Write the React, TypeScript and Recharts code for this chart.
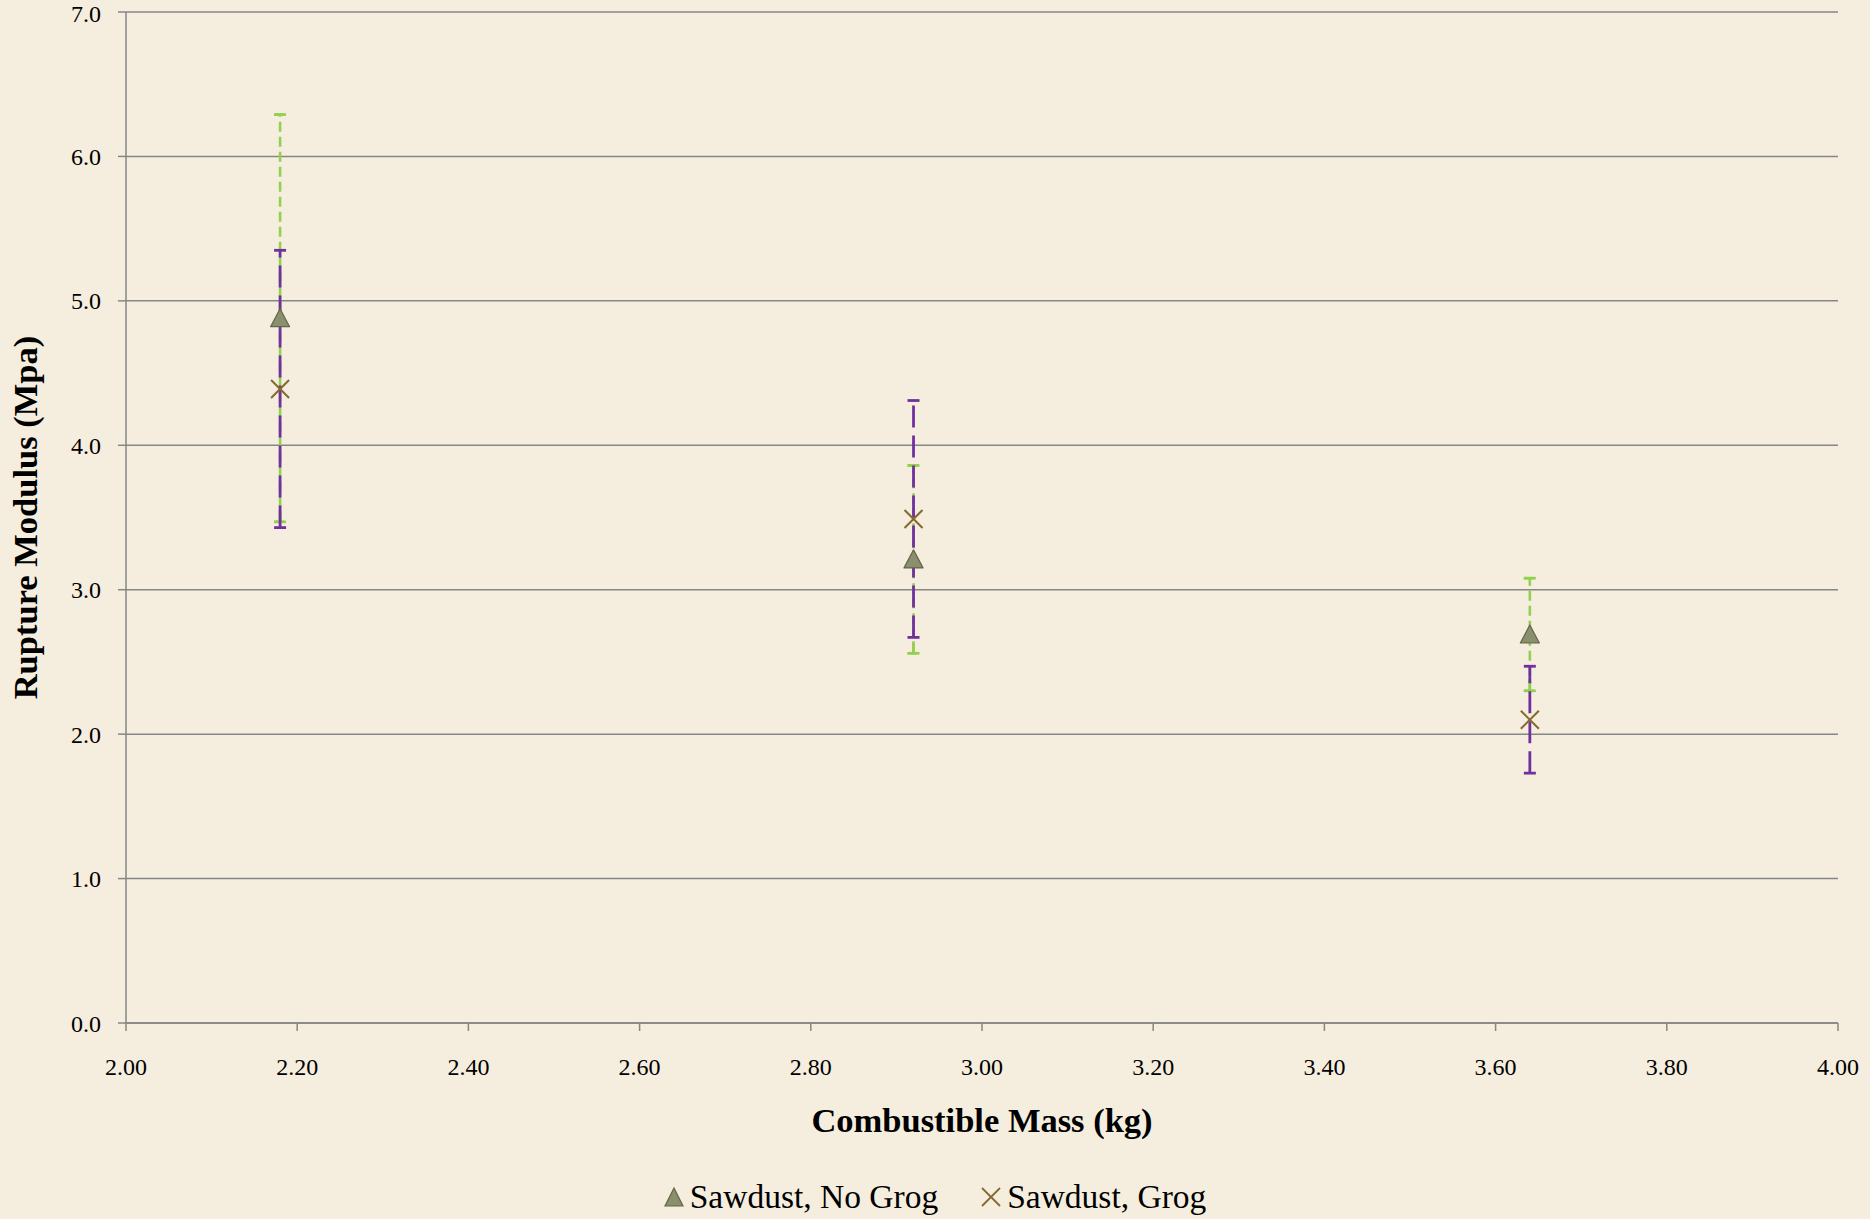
import React from 'react';
import {
  ScatterChart,
  Scatter,
  XAxis,
  YAxis,
  CartesianGrid,
  ErrorBar,
  Legend,
  Label,
} from 'recharts';

// Rupture modulus measurements against combustible mass
const massKg = [2.18, 2.92, 3.64];
const noGrogMpa = [4.88, 3.21, 2.69];
const noGrogErr = [1.41, 0.65, 0.39];
const grogMpa = [4.39, 3.49, 2.1];
const grogErr = [0.96, 0.82, 0.37];

const xTicks = [2.0, 2.2, 2.4, 2.6, 2.8, 3.0, 3.2, 3.4, 3.6, 3.8, 4.0];
const yTicks = [0, 1, 2, 3, 4, 5, 6, 7];
const seriesNames = ['Sawdust, No Grog', 'Sawdust, Grog'];
const xTitle = 'Combustible Mass (kg)';
const yTitle = 'Rupture Modulus (Mpa)';

const noGrogData = massKg.map((m, i) => ({ mass: m, mpa: noGrogMpa[i], err: noGrogErr[i] }));
const grogData = massKg.map((m, i) => ({ mass: m, mpa: grogMpa[i], err: grogErr[i] }));

const FONT = '"Liberation Serif", "Times New Roman", serif';
const BG = '#F5EEDE';
const AXIS = '#868686';
const GREEN = '#92D050';
const PURPLE = '#7030A0';
const TRI_FILL = '#8A8F6C';
const TRI_EDGE = '#62664A';
const CROSS = '#85692F';

const TriangleMark = (props: any) => {
  const { cx, cy } = props;
  if (cx == null || cy == null) return <g />;
  return (
    <polygon
      points={`${cx},${cy - 9.5} ${cx + 9.5},${cy + 8.5} ${cx - 9.5},${cy + 8.5}`}
      fill={TRI_FILL}
      stroke={TRI_EDGE}
      strokeWidth={1.2}
      strokeLinejoin="round"
    />
  );
};

const CrossMark = (props: any) => {
  const { cx, cy } = props;
  if (cx == null || cy == null) return <g />;
  const r = 9;
  return (
    <g stroke={CROSS} strokeWidth={2}>
      <line x1={cx - r} y1={cy - r} x2={cx + r} y2={cy + r} />
      <line x1={cx - r} y1={cy + r} x2={cx + r} y2={cy - r} />
    </g>
  );
};

const NoMark = () => <g />;

const XTitle = (props: any) => {
  const vb = props.viewBox || {};
  return (
    <text
      x={vb.x + vb.width / 2}
      y={vb.y + 109}
      textAnchor="middle"
      fontFamily={FONT}
      fontWeight="bold"
      fontSize={34.5}
      fill="#000"
    >
      {xTitle}
    </text>
  );
};

const YTitle = (props: any) => {
  const vb = props.viewBox || {};
  const x = vb.x + 37;
  const y = vb.y + vb.height / 2;
  return (
    <text
      x={x}
      y={y}
      transform={`rotate(-90, ${x}, ${y})`}
      textAnchor="middle"
      fontFamily={FONT}
      fontWeight="bold"
      fontSize={34.5}
      fill="#000"
    >
      {yTitle}
    </text>
  );
};

const LegendContent = () => (
  <div
    style={{
      display: 'flex',
      justifyContent: 'center',
      alignItems: 'center',
      height: 45,
      paddingLeft: 32,
      fontFamily: FONT,
      fontSize: 33.5,
      color: '#000',
    }}
  >
    <div style={{ display: 'flex', alignItems: 'center', marginRight: 43 }}>
      <svg width={20} height={20} style={{ marginRight: 6 }}>
        <polygon points="10,1 19,19 1,19" fill={TRI_FILL} stroke={TRI_EDGE} strokeWidth={1.2} />
      </svg>
      <span>{seriesNames[0]}</span>
    </div>
    <div style={{ display: 'flex', alignItems: 'center' }}>
      <svg width={20} height={20} style={{ marginRight: 6 }}>
        <g stroke={CROSS} strokeWidth={1.8}>
          <line x1={1} y1={1} x2={19} y2={19} />
          <line x1={1} y1={19} x2={19} y2={1} />
        </g>
      </svg>
      <span>{seriesNames[1]}</span>
    </div>
  </div>
);

const tickStyle = { fontFamily: FONT, fontSize: 24, fill: '#000' };

export default function App() {
  return (
    <div
      style={{
        position: 'absolute',
        left: 0,
        top: 0,
        width: 1870,
        height: 1219,
        background: BG,
      }}
    >
      <ScatterChart
        width={1870}
        height={1219}
        margin={{ top: 12, right: 32, bottom: 0, left: 0 }}
      >
        <CartesianGrid vertical={false} stroke={AXIS} strokeWidth={1.5} />
        <XAxis
          type="number"
          dataKey="mass"
          domain={[2, 4]}
          ticks={xTicks}
          tickFormatter={(v: number) => v.toFixed(2)}
          allowDataOverflow
          height={151}
          tickSize={8}
          tickMargin={27}
          tick={tickStyle}
          axisLine={{ stroke: AXIS, strokeWidth: 1.5 }}
          tickLine={{ stroke: AXIS, strokeWidth: 1.5 }}
        >
          <Label content={<XTitle />} />
        </XAxis>
        <YAxis
          type="number"
          dataKey="mpa"
          domain={[0, 7]}
          ticks={yTicks}
          tickFormatter={(v: number) => v.toFixed(1)}
          allowDataOverflow
          width={126}
          tickSize={8}
          tickMargin={17}
          tick={tickStyle}
          axisLine={{ stroke: AXIS, strokeWidth: 1.5 }}
          tickLine={{ stroke: AXIS, strokeWidth: 1.5 }}
        >
          <Label content={<YTitle />} />
        </YAxis>
        <Legend verticalAlign="bottom" content={<LegendContent />} />

        {/* green dashed error bars of the no-grog series, caps drawn solid */}
        <Scatter
          data={noGrogData}
          shape={<NoMark />}
          legendType="none"
          isAnimationActive={false}
        >
          <ErrorBar
            dataKey="err"
            direction="y"
            width={6}
            stroke={GREEN}
            strokeWidth={2.6}
            strokeDasharray="10 5"
            isAnimationActive={false}
          />
          <ErrorBar
            dataKey="err"
            direction="y"
            width={6}
            stroke={GREEN}
            strokeWidth={2.6}
            strokeDasharray="12 100000"
            isAnimationActive={false}
          />
        </Scatter>

        <Scatter
          name={seriesNames[1]}
          data={grogData}
          shape={<CrossMark />}
          isAnimationActive={false}
        >
          <ErrorBar
            dataKey="err"
            direction="y"
            width={6}
            stroke={PURPLE}
            strokeWidth={2.8}
            strokeDasharray="22 8"
            isAnimationActive={false}
          />
        </Scatter>

        <Scatter
          name={seriesNames[0]}
          data={noGrogData}
          shape={<TriangleMark />}
          isAnimationActive={false}
        />
      </ScatterChart>
    </div>
  );
}
